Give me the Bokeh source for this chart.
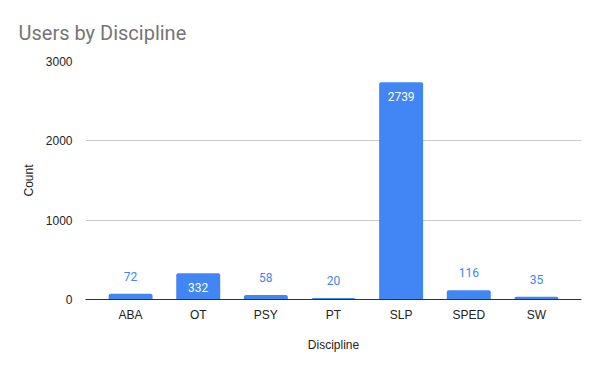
from bokeh.plotting import figure
from bokeh.models import ColumnDataSource, LabelSet, Title, FactorRange, Range1d, FixedTicker
from bokeh.core.properties import value
from bokeh.embed import file_html
from bokeh.resources import INLINE

categories = ["ABA", "OT", "PSY", "PT", "SLP", "SPED", "SW"]
counts = [72, 332, 58, 20, 2739, 116, 35]
y_ticks = [0, 1000, 2000, 3000]

BLUE = "#4285F4"

inside = [c >= 300 for c in counts]
src_in = ColumnDataSource(dict(
    x=[c for c, i in zip(categories, inside) if i],
    y=[v for v, i in zip(counts, inside) if i],
    t=[str(v) for v, i in zip(counts, inside) if i],
))
src_out = ColumnDataSource(dict(
    x=[c for c, i in zip(categories, inside) if not i],
    y=[v for v, i in zip(counts, inside) if not i],
    t=[str(v) for v, i in zip(counts, inside) if not i],
))

p = figure(
    x_range=FactorRange(*categories, range_padding=0.0476),
    y_range=Range1d(0, 3000),
    frame_width=496, frame_height=238,
    output_backend="svg", toolbar_location=None,
    min_border_left=85, min_border_right=11, min_border_top=61, min_border_bottom=64,
)
p.outline_line_color = None

p.vbar(x=categories, top=counts, width=0.65, color=BLUE, line_color=None,
       border_radius=(2, 2, 0, 0))

p.add_layout(LabelSet(x="x", y="y", text="t", source=src_out, text_align="center",
                      text_baseline="bottom", y_offset=13, text_color=BLUE,
                      text_font=value("Roboto"), text_font_size="12px"))
p.add_layout(LabelSet(x="x", y="y", text="t", source=src_in, text_align="center",
                      text_baseline="top", y_offset=-10, text_color="white",
                      text_font=value("Roboto"), text_font_size="12px"))

p.title = Title(text="Users by Discipline", text_font="Roboto", text_font_size="20px",
                text_font_style="normal", text_color="#757575", align="left",
                offset=-67, standoff=34)

p.yaxis.ticker = FixedTicker(ticks=y_ticks)
p.yaxis.axis_line_color = None
p.yaxis.major_tick_line_color = None
p.yaxis.minor_tick_line_color = None
p.yaxis.axis_label = "Count"
p.yaxis.axis_label_text_font = "Liberation Sans"
p.yaxis.axis_label_text_font_style = "normal"
p.yaxis.axis_label_text_font_size = "12px"
p.yaxis.axis_label_text_color = "#222222"
p.yaxis.major_label_text_font = "Liberation Sans"
p.yaxis.major_label_text_font_size = "12px"
p.yaxis.major_label_text_color = "#222222"
p.yaxis.major_label_standoff = 7
p.yaxis.axis_label_standoff = 7

p.xaxis.axis_line_color = "#333333"
p.xaxis.major_tick_line_color = None
p.xaxis.minor_tick_line_color = None
p.xaxis.axis_label = "Discipline"
p.xaxis.axis_label_text_font = "Liberation Sans"
p.xaxis.axis_label_text_font_style = "normal"
p.xaxis.axis_label_text_font_size = "12px"
p.xaxis.axis_label_text_color = "#222222"
p.xaxis.major_label_text_font = "Liberation Sans"
p.xaxis.major_label_text_font_size = "12px"
p.xaxis.major_label_text_color = "#222222"
p.xaxis.major_label_standoff = 2
p.xaxis.axis_label_standoff = 13

p.xgrid.grid_line_color = None
p.ygrid.grid_line_color = "#cccccc"

open("out.html", "w").write(file_html(p, INLINE))
